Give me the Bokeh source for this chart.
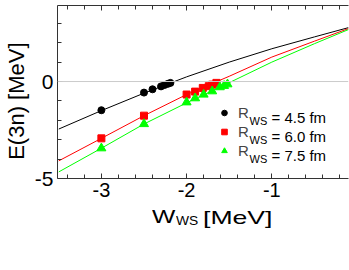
from bokeh.plotting import figure
from bokeh.layouts import column
from bokeh.models import (Range1d, FixedTicker, LinearAxis, Span, Label, Legend,
                          LegendItem, CustomJSTickFormatter, Div)
from bokeh.embed import file_html
from bokeh.resources import INLINE

FONT = "Liberation Sans"

# ---- data ----
curve_x = [-3.5, -3.0, -2.5, -2.0, -1.5, -1.0, -0.5, -0.1]
curve_r45 = [-2.45, -1.50, -0.60, 0.24, 1.00, 1.69, 2.30, 2.78]
curve_r60 = [-4.09, -2.93, -1.76, -0.67, 0.27, 1.26, 2.08, 2.73]
curve_r75 = [-4.66, -3.44, -2.19, -1.10, -0.06, 1.00, 1.95, 2.68]

pts_r45_x = [-3.0, -2.5, -2.4, -2.3, -2.26, -2.22, -2.19]
pts_r45_y = [-1.48, -0.57, -0.40, -0.25, -0.18, -0.12, -0.07]
pts_r60_x = [-3.0, -2.5, -2.0, -1.9, -1.81, -1.74, -1.70, -1.65]
pts_r60_y = [-2.93, -1.76, -0.67, -0.52, -0.33, -0.24, -0.16, -0.07]
pts_r75_x = [-3.0, -2.5, -2.0, -1.9, -1.8, -1.7, -1.61, -1.56, -1.52]
pts_r75_y = [-3.44, -2.19, -1.07, -0.86, -0.67, -0.50, -0.29, -0.22, -0.14]

legend_values = ["= 4.5 fm", "= 6.0 fm", "= 7.5 fm"]

x_major = [-3, -2, -1]
x_labels = {-3: "-3", -2: "-2", -1: "-1"}
x_minor = [-3.4, -3.2, -3.0, -2.8, -2.6, -2.4, -2.2, -2.0, -1.8, -1.6, -1.4,
           -1.2, -1.0, -0.8, -0.6, -0.4, -0.2]
y_major = [-5, 0]
y_labels = {-5: "-5", 0: "0"}
y_minor = [-4, -3, -2, -1, 1, 2, 3]

BLACK, RED, GREEN = "#000000", "#ff0000", "#00ff00"

p = figure(width=349, height=208, output_backend="svg", toolbar_location=None,
           x_range=Range1d(-3.515, -0.10), y_range=Range1d(-5, 3.92),
           min_border_left=56, min_border_right=1, min_border_top=5,
           min_border_bottom=30, margin=(0, 0, 0, 0))
p.outline_line_color = None
p.grid.visible = False
p.background_fill_color = "white"
p.border_fill_color = "white"

p.add_layout(Span(location=0, dimension="width", line_color="#cccccc", line_width=1))

p.line(curve_x, curve_r45, line_color=BLACK, line_width=1)
p.line(curve_x, curve_r60, line_color=RED, line_width=1)
p.line(curve_x, curve_r75, line_color=GREEN, line_width=1)

rb = p.scatter(pts_r45_x, pts_r45_y, marker="circle", size=7, fill_color=BLACK, line_color=BLACK)
rr = p.scatter(pts_r60_x, pts_r60_y, marker="square", size=7, fill_color=RED, line_color=RED)
rg = p.scatter(pts_r75_x, pts_r75_y, marker="triangle", size=9, fill_color=GREEN, line_color=GREEN)


def style_axis(ax, major, minor):
    ax.ticker = FixedTicker(ticks=major, minor_ticks=minor)
    ax.axis_line_color = "#333333"
    ax.major_tick_line_color = "#333333"
    ax.minor_tick_line_color = "#333333"
    ax.major_tick_in = 5
    ax.major_tick_out = 0
    ax.minor_tick_in = 4
    ax.minor_tick_out = 0
    ax.major_label_text_font = FONT
    ax.major_label_text_color = "black"


xa = p.xaxis[0]
style_axis(xa, x_major, x_minor)
xa.major_label_overrides = x_labels
xa.major_label_text_font_size = "20px"
xa.major_label_standoff = 4

ya = p.yaxis[0]
style_axis(ya, y_major, y_minor)
ya.major_label_overrides = y_labels
ya.major_label_text_font_size = "21px"
ya.major_label_standoff = 4
ya.axis_label = "E(3n)  [MeV]\u00a0\u00a0"
ya.axis_label_text_font = FONT
ya.axis_label_text_font_size = "22px"
ya.axis_label_text_font_style = "normal"
ya.axis_label_text_color = "black"
ya.axis_label_standoff = 3

top = LinearAxis(formatter=CustomJSTickFormatter(code="return ''"))
style_axis(top, x_major, x_minor)
top.major_label_standoff = 0
p.add_layout(top, "above")

legend = Legend(items=[LegendItem(label="R", renderers=[rb]),
                       LegendItem(label="R", renderers=[rr]),
                       LegendItem(label="R", renderers=[rg])],
                location=(160, 18.5), padding=0, margin=0, spacing=0,
                glyph_width=14, glyph_height=19, label_height=19, label_standoff=7,
                label_text_font=FONT, label_text_font_size="15px",
                border_line_color=None, background_fill_alpha=0)
p.add_layout(legend)

for i, val in enumerate(legend_values):
    p.add_layout(Label(x=192, y=57.3 - 19 * i, x_units="screen", y_units="screen",
                       text="WS", text_font=FONT, text_font_size="11px",
                       text_color="black", text_baseline="alphabetic"))
    p.add_layout(Label(x=214, y=60.7 - 19 * i, x_units="screen", y_units="screen",
                       text=val, text_font=FONT, text_font_size="15px",
                       text_color="black", text_baseline="alphabetic"))

span_css = "position:absolute; line-height:1; white-space:nowrap; transform-origin:0 0;"
xtitle = Div(
    text=('<div style="position:relative; width:349px; height:30px">'
          f'<span style="{span_css} left:152px; top:-1px; font-size:19px; transform:scaleX(1.3)">W</span>'
          f'<span style="{span_css} left:176px; top:7px; font-size:12px; transform:scaleX(1.15)">WS</span>'
          f'<span style="{span_css} left:203px; top:0px; font-size:19px; transform:scaleX(1.4)">[MeV]</span>'
          '</div>'),
    width=349, height=30, margin=(0, 0, 0, 0),
    styles={"font-family": FONT, "color": "black"})

layout = column(p, xtitle, spacing=0)
open("out.html", "w").write(file_html(layout, INLINE))
